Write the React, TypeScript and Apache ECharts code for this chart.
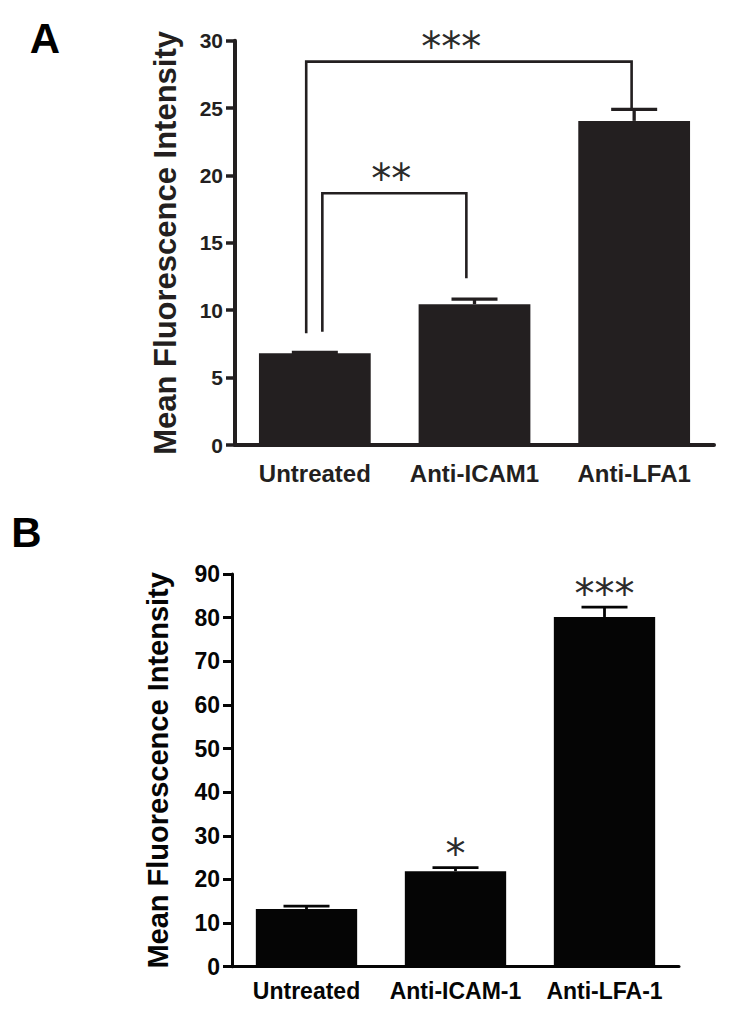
import React, { useEffect, useRef } from 'react';
import * as echarts from 'echarts';

// ---------- Panel A data ----------
const categoriesA = ['Untreated', 'Anti-ICAM1', 'Anti-LFA1'];
const meanA = [6.8, 10.45, 24.05];
const errTopA = [6.87, 10.83, 24.9];
const yTicksA = { min: 0, max: 30, interval: 5 };
// significance brackets (category indices and value levels)
const bracketLeftA = [0, 0];
const bracketRightA = [2, 1];
const bracketTopA = [28.45, 18.68];
const bracketLeftBottomA = [8.29, 8.41];
const bracketRightBottomA = [24.9, 12.37];
const bracketStarsA = ['***', '**'];
const bracketStarPosA = [0.855, 0.478];

// ---------- Panel B data ----------
const categoriesB = ['Untreated', 'Anti-ICAM-1', 'Anti-LFA-1'];
const meanB = [13.2, 21.9, 80.15];
const errTopB = [13.9, 22.7, 82.4];
const yTicksB = { min: 0, max: 90, interval: 10 };
const starsB = ['', '*', '***'];

const yTitle = 'Mean Fluorescence Intensity';

// ---------- styles ----------
const FONT = '"Liberation Sans", Arial, Helvetica, sans-serif';
const STAR_FONT = '"DejaVu Sans", sans-serif';
const colorA = '#231f20';
const colorB = '#050505';
const starColor = '#2b2b2b';
const legOffsetsLeft = [-0.054, 0.047];
const legOffsetsRight = [-0.016, -0.051];

function errorRender(capW: number, lw: number, color: string, stars: string[] | null, starGap: number) {
  return (params: any, api: any) => {
    const x = api.value(0);
    const base = api.coord([x, api.value(1)]);
    const top = api.coord([x, api.value(2)]);
    const children: any[] = [
      { type: 'line', shape: { x1: top[0], y1: base[1], x2: top[0], y2: top[1] }, style: { stroke: color, lineWidth: lw } },
      { type: 'line', shape: { x1: top[0] - capW / 2, y1: top[1], x2: top[0] + capW / 2, y2: top[1] }, style: { stroke: color, lineWidth: lw } },
    ];
    const s = stars ? stars[params.dataIndex] : '';
    if (s) {
      children.push({
        type: 'text',
        x: top[0],
        y: top[1] - starGap + 9,
        style: { text: s, font: `normal 40px ${STAR_FONT}`, fill: starColor, align: 'center', verticalAlign: 'middle' },
      });
    }
    return { type: 'group', children };
  };
}

function bracketRender(color: string) {
  return (params: any, api: any) => {
    const i = params.dataIndex;
    const bw = api.size([1, 0])[0];
    const lCat = api.value(0);
    const rCat = api.value(2);
    const topY = api.coord([lCat, api.value(1)])[1];
    const lx = api.coord([lCat, 0])[0] + legOffsetsLeft[i] * bw;
    const rx = api.coord([rCat, 0])[0] + legOffsetsRight[i] * bw;
    const lb = api.coord([lCat, api.value(3)])[1];
    const rb = api.coord([rCat, api.value(4)])[1];
    const sx = api.coord([0, 0])[0] + api.value(5) * bw;
    return {
      type: 'group',
      children: [
        {
          type: 'polyline',
          shape: { points: [[lx, lb], [lx, topY], [rx, topY], [rx, rb]] },
          style: { stroke: color, lineWidth: 2.6, fill: 'none' },
        },
        {
          type: 'text',
          x: sx,
          y: topY - 23.5 + 9,
          style: { text: bracketStarsA[i], font: `normal 40px ${STAR_FONT}`, fill: starColor, align: 'center', verticalAlign: 'middle' },
        },
      ],
    };
  };
}

export default function App() {
  const ref = useRef<HTMLDivElement>(null);
  useEffect(() => {
    if (!ref.current) return;
    const chart = echarts.init(ref.current, null, { renderer: 'svg' });

    const bracketData = bracketLeftA.map((l, i) => [
      l, bracketTopA[i], bracketRightA[i], bracketLeftBottomA[i], bracketRightBottomA[i], bracketStarPosA[i],
    ]);

    const option: any = {
      animation: false,
      backgroundColor: '#ffffff',
      grid: [
        { left: 235, top: 40.7, width: 479, height: 404.3, containLabel: false, outerBoundsMode: 'none' },
        { left: 232, top: 574, width: 447, height: 392.7, containLabel: false, outerBoundsMode: 'none' },
      ],
      xAxis: [
        {
          type: 'category', gridIndex: 0, data: categoriesA,
          axisLine: { lineStyle: { color: colorA, width: 4 } },
          axisTick: { alignWithLabel: true, length: 10, lineStyle: { color: colorA, width: 4 } },
          axisLabel: { interval: 0, margin: 16, color: colorA, fontSize: 24, fontWeight: 'bold', fontFamily: FONT },
        },
        {
          type: 'category', gridIndex: 1, data: categoriesB,
          axisLine: { lineStyle: { color: colorB, width: 3 } },
          axisTick: { alignWithLabel: true, length: 10, lineStyle: { color: colorB, width: 3.5 } },
          axisLabel: { interval: 0, margin: 13, color: colorB, fontSize: 23, fontWeight: 'bold', fontFamily: FONT },
        },
      ],
      yAxis: [
        {
          type: 'value', gridIndex: 0, ...yTicksA,
          name: yTitle, nameLocation: 'middle', nameGap: 54, nameRotate: 90,
          nameTextStyle: { color: colorA, fontSize: 31, fontWeight: 'bold', fontFamily: FONT },
          splitLine: { show: false },
          axisLine: { show: true, lineStyle: { color: colorA, width: 4 } },
          axisTick: { show: true, length: 9, lineStyle: { color: colorA, width: 3.5 } },
          axisLabel: { margin: 12, color: colorA, fontSize: 21, fontWeight: 'bold', fontFamily: FONT },
        },
        {
          type: 'value', gridIndex: 1, ...yTicksB,
          name: yTitle, nameLocation: 'middle', nameGap: 60, nameRotate: 90,
          nameTextStyle: { color: colorB, fontSize: 29, fontWeight: 'bold', fontFamily: FONT },
          splitLine: { show: false },
          axisLine: { show: true, lineStyle: { color: colorB, width: 3 } },
          axisTick: { show: true, length: 9, lineStyle: { color: colorB, width: 3 } },
          axisLabel: { margin: 12, color: colorB, fontSize: 23, fontWeight: 'bold', fontFamily: FONT },
        },
      ],
      series: [
        {
          type: 'bar', xAxisIndex: 0, yAxisIndex: 0, data: meanA, barWidth: '70%',
          itemStyle: { color: colorA },
        },
        {
          type: 'custom', xAxisIndex: 0, yAxisIndex: 0, clip: false,
          renderItem: errorRender(46, 3.3, colorA, null, 0),
          data: meanA.map((m, i) => [i, m, errTopA[i]]),
          z: 3,
        },
        {
          type: 'custom', xAxisIndex: 0, yAxisIndex: 0, clip: false,
          renderItem: bracketRender(colorA),
          data: bracketData,
          z: 3,
        },
        {
          type: 'bar', xAxisIndex: 1, yAxisIndex: 1, data: meanB, barWidth: '68%',
          itemStyle: { color: colorB },
        },
        {
          type: 'custom', xAxisIndex: 1, yAxisIndex: 1, clip: false,
          renderItem: errorRender(46, 2.8, colorB, starsB, 22.5),
          data: meanB.map((m, i) => [i, m, errTopB[i]]),
          z: 3,
        },
      ],
      graphic: [
        { type: 'text', x: 45, y: 38, style: { text: 'A', font: `bold 42px ${FONT}`, fill: '#000', align: 'center', verticalAlign: 'middle' } },
        { type: 'text', x: 26.5, y: 532, style: { text: 'B', font: `bold 42px ${FONT}`, fill: '#000', align: 'center', verticalAlign: 'middle' } },
      ],
    };
    chart.setOption(option);
    return () => chart.dispose();
  }, []);
  return (
    <div
      ref={ref}
      style={{ position: 'fixed', left: 0, top: 0, width: 729, height: 1019, background: '#fff' }}
    />
  );
}
